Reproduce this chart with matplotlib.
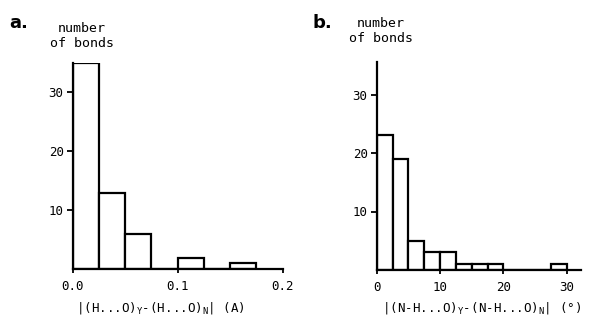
import matplotlib
matplotlib.use("Agg")
import matplotlib.pyplot as plt

plt.rcParams['font.family'] = ['DejaVu Sans Mono']
plt.rcParams['mathtext.fontset'] = 'dejavusans'

# Panel a data
a_bin_left = [0.0, 0.025, 0.05, 0.075, 0.1, 0.125, 0.15]
a_counts = [35, 13, 6, 0, 2, 0, 1]
a_bin_width = 0.025
a_xticks = [0.0, 0.1, 0.2]
a_xticklabels = ["0.0", "0.1", "0.2"]

# Panel b data
b_bin_left = [0, 2.5, 5, 7.5, 10, 12.5, 15, 17.5, 20, 22.5, 25, 27.5]
b_counts = [23, 19, 5, 3, 3, 1, 1, 1, 0, 0, 0, 1]
b_bin_width = 2.5
b_xticks = [0, 10, 20, 30]
b_xticklabels = ["0", "10", "20", "30"]

yticks = [10, 20, 30]
yticklabels = ["10", "20", "30"]

W, H = 602, 326
fig = plt.figure(figsize=(W / 100, H / 100), dpi=100)

def px_axes(left, right, bottom_px, top_px):
    return fig.add_axes([left / W, (H - bottom_px) / H, (right - left) / W, (bottom_px - top_px) / H])

lw = 1.6
axA = px_axes(72.7, 282.7, 269.3, 269.3 - 35 * 5.9)
axA.bar(a_bin_left, a_counts, width=a_bin_width, align='edge', facecolor='white',
        edgecolor='black', linewidth=lw)
axA.set_xlim(0, 0.2)
axA.set_ylim(0, 35)

axB = px_axes(376.7, 581.3, 270, 270 - 35.6 * 5.85)
axB.bar(b_bin_left, b_counts, width=b_bin_width, align='edge', facecolor='white',
        edgecolor='black', linewidth=lw)
axB.set_xlim(0, 32.3)
axB.set_ylim(0, 35.6)

for ax, xt, xtl in [(axA, a_xticks, a_xticklabels), (axB, b_xticks, b_xticklabels)]:
    for s in ['top', 'right']:
        ax.spines[s].set_visible(False)
    for s in ['left', 'bottom']:
        ax.spines[s].set_linewidth(lw)
    ax.set_xticks(xt)
    ax.set_xticklabels(xtl)
    ax.set_yticks(yticks)
    ax.set_yticklabels(yticklabels)
    ax.tick_params(axis='x', direction='out', length=3, width=1.3, pad=5, labelsize=9)
    ax.tick_params(axis='y', direction='out', length=4.5, width=1.3, pad=2, labelsize=9)
    ax.set_facecolor('none')

# Panel letters and y-axis titles
fig.text(9 / W, 1 - 28.5 / H, "a.", fontsize=13, fontweight='bold', family='DejaVu Sans')
fig.text(312 / W, 1 - 28.5 / H, "b.", fontsize=13, fontweight='bold', family='DejaVu Sans')
fig.text(82 / W, 1 - 36 / H, "number\nof bonds", ha='center', va='center', fontsize=9.5,
         linespacing=1.2)
fig.text(381 / W, 1 - 31 / H, "number\nof bonds", ha='center', va='center', fontsize=9.5,
         linespacing=1.2)

# X-axis titles
fig.text(160 / W, 1 - 308 / H, r"|(H...O)$_\mathregular{Y}$-(H...O)$_\mathregular{N}$| (A)",
         ha='center', va='center', fontsize=9)
fig.text(382 / W, 1 - 308 / H, r"|(N-H...O)$_\mathregular{Y}$-(N-H...O)$_\mathregular{N}$| (°)",
         ha='left', va='center', fontsize=9)

fig.savefig("out.png", dpi=100)
